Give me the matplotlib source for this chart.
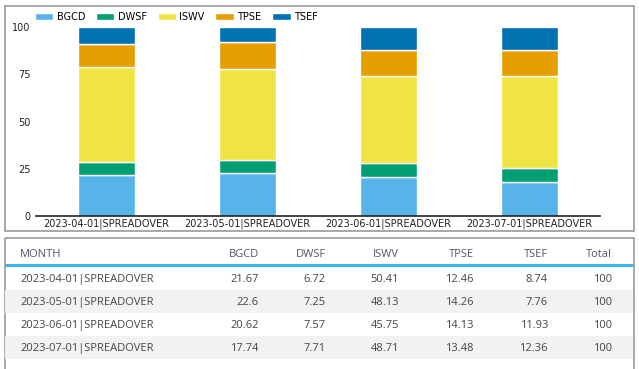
import matplotlib
matplotlib.use("Agg")
import matplotlib.pyplot as plt
from matplotlib.patches import Rectangle

# data
months = ["2023-04-01|SPREADOVER", "2023-05-01|SPREADOVER",
          "2023-06-01|SPREADOVER", "2023-07-01|SPREADOVER"]
series = ["BGCD", "DWSF", "ISWV", "TPSE", "TSEF"]
bgcd = [21.67, 22.6, 20.62, 17.74]
dwsf = [6.72, 7.25, 7.57, 7.71]
iswv = [50.41, 48.13, 45.75, 48.71]
tpse = [12.46, 14.26, 14.13, 13.48]
tsef = [8.74, 7.76, 11.93, 12.36]
colors = ["#56B4E9", "#009E73", "#F0E442", "#E69F00", "#0072B2"]
yticks = [0, 25, 50, 75, 100]

values = [bgcd, dwsf, iswv, tpse, tsef]

W, H = 639, 369
fig = plt.figure(figsize=(W / 100, H / 100), dpi=100)

# background overlay in pixel coords (boxes + table)
bg = fig.add_axes([0, 0, 1, 1])
bg.set_xlim(0, W)
bg.set_ylim(H, 0)
bg.axis("off")

# panel borders
bg.add_patch(Rectangle((4.5, 5.5), 629, 225, fill=False, ec="#999999", lw=1.2))
bg.add_patch(Rectangle((4.5, 237.5), 629, 140, fill=False, ec="#999999", lw=1.2))

# chart
ax = fig.add_axes([36 / W, 1 - 216 / H, 564 / W, 189 / H])
x = list(range(len(months)))
bottom = [0] * len(months)
handles = []
for name, vals, c in zip(series, values, colors):
    h = ax.bar(x, vals, 0.4, bottom=bottom, color=c, edgecolor="white", linewidth=1, label=name)
    handles.append(h)
    bottom = [b + v for b, v in zip(bottom, vals)]

ax.set_xlim(-0.5, 3.5)
ax.set_ylim(0, 100)
ax.set_yticks(yticks)
ax.set_xticks(x)
ax.set_xticklabels(months)
ax.tick_params(axis="both", length=0, labelsize=7, colors="#222222")
ax.tick_params(axis="y", pad=4)
ax.tick_params(axis="x", pad=1.5)
for s in ["top", "right", "left"]:
    ax.spines[s].set_visible(False)
ax.spines["bottom"].set_color("#222222")
ax.spines["bottom"].set_linewidth(1.2)

fig.legend(handles=handles, labels=series, loc="center left",
           bbox_to_anchor=(31 / W, 1 - 17 / H), ncol=5, frameon=False,
           fontsize=7, handlelength=1.9, handleheight=0.8, handletextpad=0.35,
           columnspacing=1.1, borderaxespad=0)

# table
tfont = "Open Sans"
tcol = "#444444"
col_right = [259, 326, 399, 474, 548, 612]
header = ["MONTH"] + series + ["Total"]
hy = 253
kw = dict(va="center_baseline", fontsize=8, family=tfont)
bg.text(20, hy, header[0], ha="left", color="#555566", **kw)
for name, xr in zip(header[1:], col_right):
    bg.text(xr, hy, name, ha="right", color="#555566", **kw)
bg.plot([5, 633], [265, 265], color="#3DB5E6", lw=2.2, solid_capstyle="butt")

for i, m in enumerate(months):
    yc = 278 + 23 * i
    if i % 2 == 1:
        bg.add_patch(Rectangle((5, yc - 11.5), 628, 23, color="#F2F2F2", lw=0))
    row = [v[i] for v in values]
    total = round(sum(row), 2)
    cells = [f"{v:g}" for v in row] + [f"{total:g}"]
    bg.text(20, yc, m, ha="left", color=tcol, **kw)
    for txt, xr in zip(cells, col_right):
        bg.text(xr, yc, txt, ha="right", color=tcol, **kw)

fig.savefig("out.png", dpi=100)
